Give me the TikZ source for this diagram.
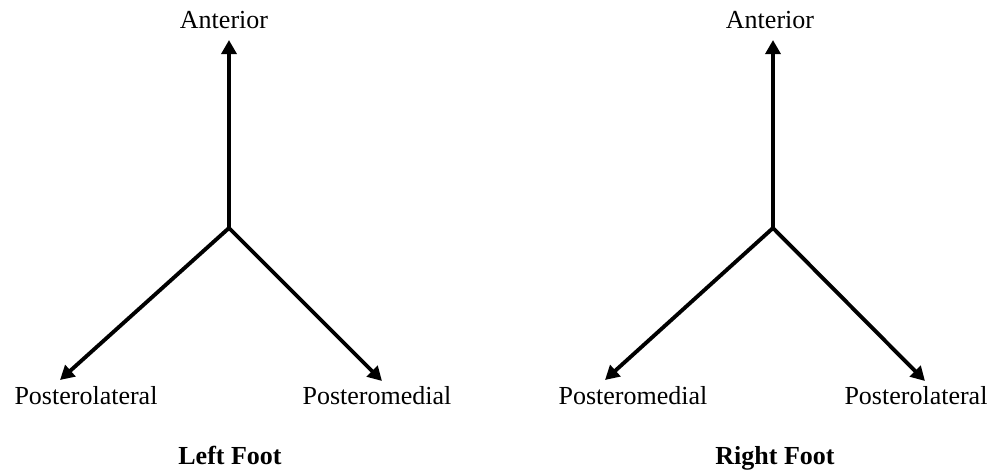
\documentclass[tikz,border=0pt]{standalone}
\usepackage{fontspec}
\setmainfont{Liberation Serif}
\usetikzlibrary{arrows.meta}

\begin{document}
\begin{tikzpicture}[x=0.02cm, y=-0.02cm,
    axis/.style={line width=2.2pt, -{Triangle[length=8pt,width=8.5pt]}},
    dirlabel/.style={anchor=base, inner sep=0pt, font=\fontsize{14.8}{17}\selectfont},
    footlabel/.style={anchor=base, inner sep=0pt, font=\fontsize{14.8}{17}\selectfont\bfseries}]

    % 0. 画布范围
    \useasboundingbox (0,0) rectangle (995,470);

    % 1. 左脚: 原点和三个方向
    \coordinate (OL) at (229,228);
    \coordinate (AL) at (229,40);
    \coordinate (BL) at (60,380);
    \coordinate (CL) at (382,381);

    \draw[axis] (OL) -- (AL);
    \draw[axis] (OL) -- (BL);
    \draw[axis] (OL) -- (CL);

    \node[dirlabel] (antL) at (224,29) {Anterior};
    \node[dirlabel] (latL) at (86,404) {Posterolateral};
    \node[dirlabel] (medL) at (377,404) {Posteromedial};
    \node[footlabel] (footL) at (230,464) {Left Foot};

    % 2. 右脚: 原点和三个方向
    \coordinate (OR) at (773,228);
    \coordinate (AR) at (773,40);
    \coordinate (BR) at (605,380);
    \coordinate (CR) at (925,381);

    \draw[axis] (OR) -- (AR);
    \draw[axis] (OR) -- (BR);
    \draw[axis] (OR) -- (CR);

    \node[dirlabel] (antR) at (770,29) {Anterior};
    \node[dirlabel] (medR) at (633,404) {Posteromedial};
    \node[dirlabel] (latR) at (916,404) {Posterolateral};
    \node[footlabel] (footR) at (775,464) {Right Foot};

\end{tikzpicture}
\end{document}
